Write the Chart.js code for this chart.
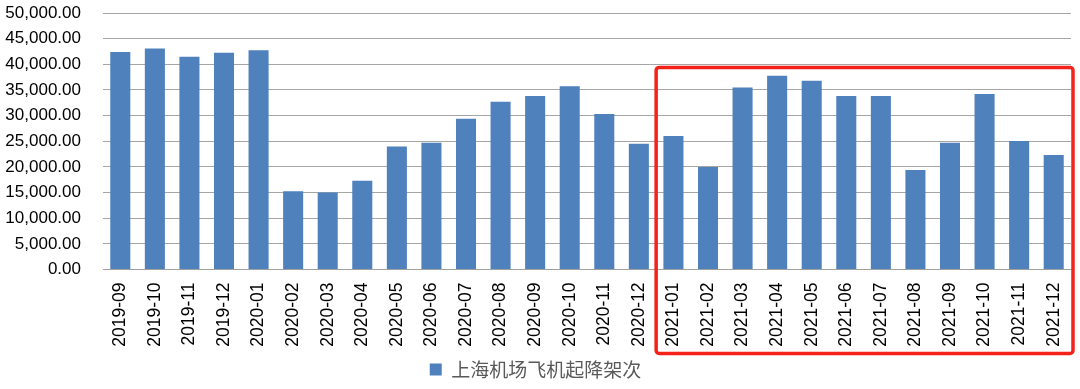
<!DOCTYPE html>
<html lang="zh">
  <head>
    <meta charset="UTF-8" />
    <title>上海机场飞机起降架次</title>
    <script src="https://cdn.jsdelivr.net/npm/chart.js"></script>
    <style>
      html, body { margin: 0; padding: 0; background: #fff; }
      #wrap { width: 1080px; height: 389px; position: relative; }
    </style>
  </head>
  <body>
    <div id="wrap"><canvas id="flights"></canvas></div>
    <script>
      // months on the x axis
      const months = [
        "2019-09", "2019-10", "2019-11", "2019-12",
        "2020-01", "2020-02", "2020-03", "2020-04", "2020-05", "2020-06",
        "2020-07", "2020-08", "2020-09", "2020-10", "2020-11", "2020-12",
        "2021-01", "2021-02", "2021-03", "2021-04", "2021-05", "2021-06",
        "2021-07", "2021-08", "2021-09", "2021-10", "2021-11", "2021-12"
      ];
      // take-offs and landings per month
      const movements = [
        42400, 43100, 41450, 42250,
        42750, 15250, 15000, 17300, 24000, 24700,
        29400, 32700, 33800, 35700, 30300, 24500,
        26000, 20000, 35500, 37750, 36800, 33800,
        33800, 19400, 24700, 34200, 25050, 22300
      ];
      const seriesName = "上海机场飞机起降架次";
      const yTicks = { min: 0, max: 50000, step: 5000 };
      // highlighted period: first month and top value of the red frame
      const highlightFrom = "2021-01";
      const highlightTop = 39400;

      const highlightBox = {
        id: "highlightBox",
        afterDraw(chart) {
          const x = chart.scales.x, y = chart.scales.y, area = chart.chartArea;
          const i = months.indexOf(highlightFrom);
          const left = (x.getPixelForValue(i - 1) + x.getPixelForValue(i)) / 2;
          const right = area.right + 2;
          const top = y.getPixelForValue(highlightTop);
          const bottom = area.bottom + 84;
          const c = chart.ctx;
          c.save();
          c.strokeStyle = "#f5221b";
          c.lineWidth = 3.5;
          c.beginPath();
          c.roundRect(left, top, right - left, bottom - top, 3);
          c.stroke();
          c.restore();
        }
      };

      new Chart(document.getElementById("flights"), {
        type: "bar",
        data: {
          labels: months,
          datasets: [
            {
              label: seriesName,
              data: movements,
              backgroundColor: "#4f81bd",
              barPercentage: 0.58,
              categoryPercentage: 1
            }
          ]
        },
        options: {
          responsive: true,
          maintainAspectRatio: false,
          animation: false,
          layout: { padding: { top: 13, right: 9, bottom: 0, left: 0 } },
          plugins: {
            tooltip: { enabled: false },
            legend: {
              position: "bottom",
              labels: {
                boxWidth: 12,
                boxHeight: 12,
                padding: 6,
                color: "#595959",
                font: { family: "'Noto Sans CJK SC', sans-serif", size: 19 }
              }
            }
          },
          scales: {
            x: {
              grid: { display: false, drawTicks: false },
              border: { color: "#a0a0a0" },
              ticks: {
                minRotation: 90,
                maxRotation: 90,
                autoSkip: false,
                padding: 13,
                color: "#000",
                font: { family: "'Liberation Sans', Arial, sans-serif", size: 17.5 }
              },
              afterFit(s) {
                s.height = 84.5;
                s.paddingLeft = 0;
                s.paddingRight = 0;
              }
            },
            y: {
              min: yTicks.min,
              max: yTicks.max,
              grid: { color: "#a6a6a6", drawTicks: false },
              border: { display: false },
              ticks: {
                stepSize: yTicks.step,
                autoSkip: false,
                padding: 22,
                color: "#000",
                font: { family: "'Liberation Sans', Arial, sans-serif", size: 17 },
                callback: (v) => v.toLocaleString("en-US", { minimumFractionDigits: 2, maximumFractionDigits: 2 })
              },
              afterFit(s) {
                s.width = 103;
                s.paddingTop = 0;
                s.paddingBottom = 0;
              }
            }
          }
        },
        plugins: [highlightBox]
      });
    </script>
  </body>
</html>
